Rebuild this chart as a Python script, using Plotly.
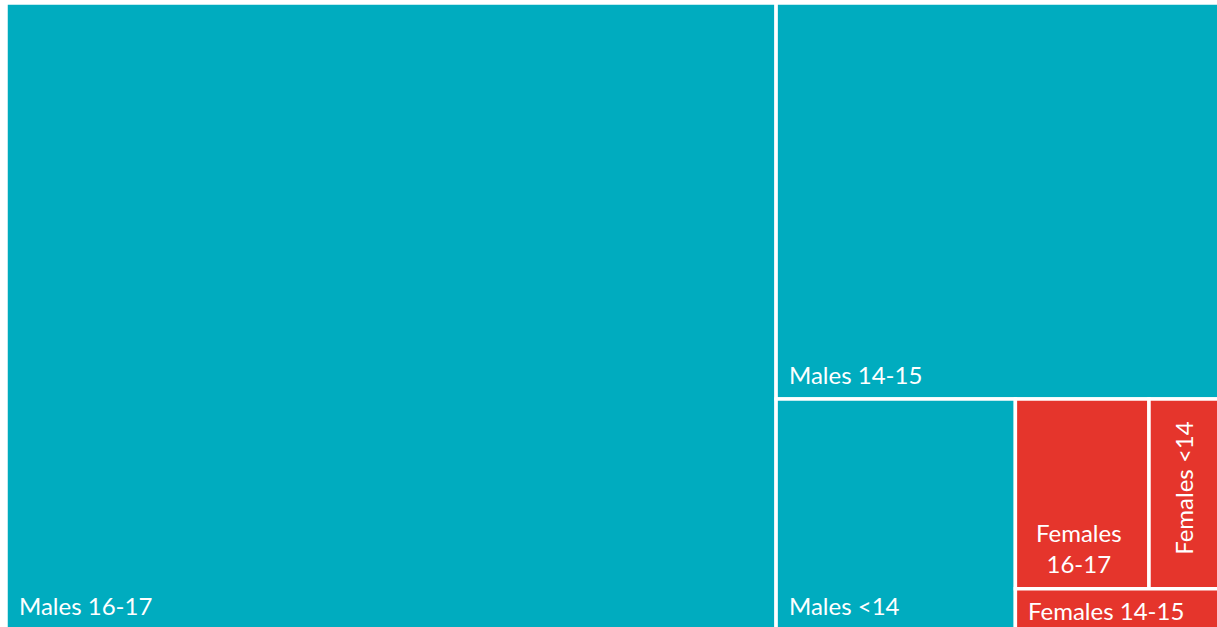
import plotly.graph_objects as go

# Data (share of total, %, estimated from tile areas)
labels = ["Males 16-17", "Males 14-15", "Males <14", "Females 16-17", "Females <14", "Females 14-15"]
values = [63.5, 23.1, 7.25, 3.34, 1.75, 1.08]
groups = ["Males", "Males", "Males", "Females", "Females", "Females"]

group_colors = {"Males": "#00ACBF", "Females": "#E5352C"}
colors = [group_colors[g] for g in groups]

# figure slightly larger than the 1217x627 window: the reference is cropped at right/bottom
W, H = 1219, 629
ML, MT, MR, MB = 6, 3, 0, 0
RATIO = 1.618
FONT = dict(family="Lato, Open Sans, sans-serif", size=24, color="white")


def squarify(vals, x0, y0, x1, y1, ratio):
    """Replica of d3.treemapSquarify (used by plotly's treemap) to locate labels."""
    rects = [None] * len(vals)
    order = sorted(range(len(vals)), key=lambda i: -vals[i])
    v = [vals[i] for i in order]
    value = sum(v)
    n = len(v)
    i0 = i1 = 0
    while i0 < n:
        dx, dy = x1 - x0, y1 - y0
        s = v[i1]
        i1 += 1
        mn = mx = s
        alpha = max(dy / dx, dx / dy) / (value * ratio)
        beta = s * s * alpha
        min_ratio = max(mx / beta, beta / mn)
        while i1 < n:
            nv = v[i1]
            s += nv
            mn, mx = min(mn, nv), max(mx, nv)
            beta = s * s * alpha
            new_ratio = max(mx / beta, beta / mn)
            if new_ratio > min_ratio:
                s -= nv
                break
            min_ratio = new_ratio
            i1 += 1
        row = list(range(i0, i1))
        if dx < dy:  # dice: horizontal row on top
            ny = y0 + dy * s / value
            cx = x0
            for k in row:
                w = dx * v[k] / s
                rects[order[k]] = (cx, y0, cx + w, ny)
                cx += w
            y0 = ny
        else:  # slice: vertical column on the left
            nx = x0 + dx * s / value
            cy = y0
            for k in row:
                h = dy * v[k] / s
                rects[order[k]] = (x0, cy, nx, cy + h)
                cy += h
            x0 = nx
        value -= s
        i0 = i1
    return rects


rects = squarify(values, ML, MT, W - MR, H - MB, RATIO)


def px(x):
    return (x - ML) / (W - ML - MR)


def py(y):
    return 1 - (y - MT) / (H - MT - MB)


fig = go.Figure(go.Treemap(
    labels=labels,
    parents=[""] * len(labels),
    values=values,
    textinfo="none",
    marker=dict(colors=colors, line=dict(color="white", width=3.5),
                pad=dict(t=0, l=0, r=0, b=0)),
    tiling=dict(packing="squarify", squarifyratio=RATIO, pad=0),
    pathbar=dict(visible=False),
    sort=True,
    hoverinfo="label+value",
))

for lab, (x0, y0, x1, y1) in zip(labels, rects):
    h = y1 - y0
    if lab == "Females <14":
        fig.add_annotation(text=lab, textangle=-90, x=px((x0 + x1) / 2), y=py((y0 + y1) / 2 - 6),
                           xanchor="center", yanchor="middle")
    elif lab == "Females 16-17":
        fig.add_annotation(text="Females<br>16-17", align="center", x=px((x0 + x1) / 2 - 3),
                           y=py(y1 - 41), xanchor="center", yanchor="middle")
    else:
        fig.add_annotation(text=lab, x=px(x0 + 11), y=py(y1 - min(24, 0.45 * h)),
                           xanchor="left", yanchor="middle")

fig.update_annotations(xref="paper", yref="paper", showarrow=False, font=FONT)

fig.update_layout(
    width=W, height=H,
    margin=dict(l=ML, r=MR, t=MT, b=MB),
    paper_bgcolor="white",
    showlegend=False,
)

# remove the browser's default page margin and crop what overflows the window
fig.write_html(
    "out.html",
    config={"displayModeBar": False},
    post_script="document.body.style.margin='0';document.body.style.overflow='hidden';",
)
